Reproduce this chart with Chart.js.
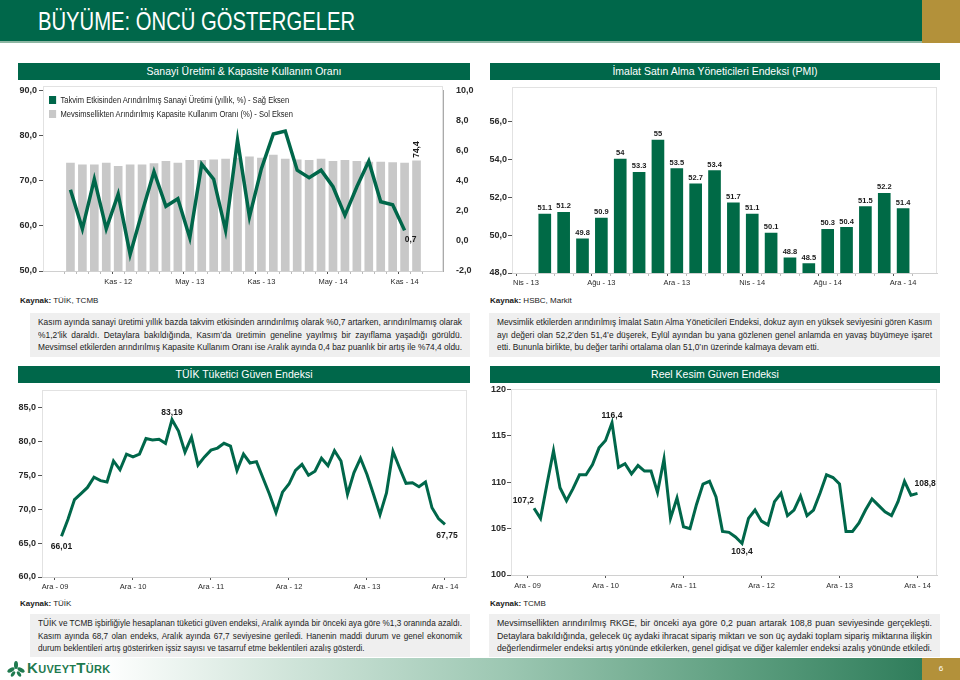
<!DOCTYPE html>
<html lang="tr">
<head>
<meta charset="utf-8">
<script src="https://cdn.jsdelivr.net/npm/chart.js@4.4.1/dist/chart.umd.min.js"></script>
<style>
  body { margin: 0; width: 960px; height: 680px; position: relative; overflow: hidden; background: #fff;
         font-family: "Liberation Sans", Arial, sans-serif; color: #1a1a1a; }
  .abs { position: absolute; }
  #hdr { left: 0; top: 0; width: 922px; height: 41px; background: #00674a; }
  #hdrLine { left: 0; top: 41px; width: 922px; height: 2px; background: #8db6a3; }
  #hdrTitle { left: 38px; top: 6px; color: #fff; font-size: 26px; white-space: nowrap; transform-origin: left center; }
  .gold { background: #b3913a; }
  .tbar { height: 17px; line-height: 17px; background: #00674a; color: #fff; text-align: center; font-size: 10.5px; }
  .frame { border: 1px solid #e2e2e2; box-sizing: border-box; }
  canvas { position: absolute; z-index: 2; }
  .src { font-size: 8px; }
  .box { background: #efefef; box-sizing: border-box; padding: 3px 8px 0 8px; font-size: 9px; color: #222; }
  .box div, .leg div { width: max-content; white-space: nowrap; transform-origin: left center; }
  .box div { height: 12.5px; line-height: 12.5px; }
  .leg { font-size: 8.5px; color: #222; z-index: 3; }
  .leg div { height: 14px; line-height: 14px; }
  .leg span.sw { display: inline-block; width: 8px; height: 8px; vertical-align: -1px; margin-right: 5px; }
  #foot { left: 0; top: 658px; width: 922px; height: 22px;
          background: linear-gradient(to right, #ffffff 0%, #ffffff 11%, #d3e6dc 30%, #9cc7b2 55%, #5e9f80 80%, #2f7d5b 100%); }
</style>
</head>
<body>
<div id="hdr" class="abs"></div>
<div id="hdrLine" class="abs"></div>
<div id="hdrTitle" class="abs">BÜYÜME: ÖNCÜ GÖSTERGELER</div>
<div class="abs gold" style="left:922px;top:0;width:38px;height:43px"></div>

<div class="abs tbar" style="left:18px;top:63px;width:452px">Sanayi Üretimi &amp; Kapasite Kullanım Oranı</div>
<div class="abs tbar" style="left:490px;top:63px;width:450px">İmalat Satın Alma Yöneticileri Endeksi (PMI)</div>
<div class="abs tbar" style="left:18px;top:366px;width:452px">TÜİK Tüketici Güven Endeksi</div>
<div class="abs tbar" style="left:490px;top:366px;width:450px">Reel Kesim Güven Endeksi</div>

<div class="abs frame" style="left:43px;top:86px;width:400px;height:186px"></div>
<div class="abs frame" style="left:512px;top:87px;width:425px;height:187px"></div>
<div class="abs frame" style="left:42px;top:390px;width:425px;height:188px"></div>
<div class="abs frame" style="left:511px;top:389px;width:426px;height:187px"></div>

<canvas id="c1" width="480" height="215" style="left:0;top:80px"></canvas>
<canvas id="c2" width="480" height="215" style="left:480px;top:80px"></canvas>
<canvas id="c3" width="480" height="217" style="left:0;top:383px"></canvas>
<canvas id="c4" width="480" height="217" style="left:480px;top:383px"></canvas>

<div class="abs leg" id="leg" style="left:49px;top:93px" data-w="244">
  <div><span class="sw" style="background:#00674a"></span>Takvim Etkisinden Arındırılmış Sanayi Üretimi (yıllık, %) - Sağ Eksen</div>
  <div><span class="sw" style="background:#c8c8c8"></span>Mevsimsellikten Arındırılmış Kapasite Kullanım Oranı (%) - Sol Eksen</div>
</div>

<div class="abs src" style="left:20px;top:296px"><b>Kaynak:</b> TÜİK, TCMB</div>
<div class="abs src" style="left:490px;top:296px"><b>Kaynak:</b> HSBC, Markit</div>
<div class="abs src" style="left:20px;top:599px"><b>Kaynak:</b> TÜİK</div>
<div class="abs src" style="left:490px;top:599px"><b>Kaynak:</b> TCMB</div>

<div class="abs box" style="left:30px;top:313px;width:440px;height:44px">
  <div>Kasım ayında sanayi üretimi yıllık bazda takvim etkisinden arındırılmış olarak %0,7 artarken, arındırılmamış olarak</div>
  <div>%1,2’lik daraldı. Detaylara bakıldığında, Kasım’da üretimin geneline yayılmış bir zayıflama yaşadığı görüldü.</div>
  <div>Mevsimsel etkilerden arındırılmış Kapasite Kullanım Oranı ise Aralık ayında 0,4 baz puanlık bir artış ile %74,4 oldu.</div>
</div>
<div class="abs box" style="left:489px;top:313px;width:451px;height:44px">
  <div>Mevsimlik etkilerden arındırılmış İmalat Satın Alma Yöneticileri Endeksi, dokuz ayın en yüksek seviyesini gören Kasım</div>
  <div>ayı değeri olan 52,2’den 51,4’e düşerek, Eylül ayından bu yana gözlenen genel anlamda en yavaş büyümeye işaret</div>
  <div>etti. Bununla birlikte, bu değer tarihi ortalama olan 51,0’ın üzerinde kalmaya devam etti.</div>
</div>
<div class="abs box" style="left:30px;top:614px;width:440px;height:43px">
  <div>TÜİK ve TCMB işbirliğiyle hesaplanan tüketici güven endeksi, Aralık ayında bir önceki aya göre %1,3 oranında azaldı.</div>
  <div>Kasım ayında 68,7 olan endeks, Aralık ayında 67,7 seviyesine geriledi. Hanenin maddi durum ve genel ekonomik</div>
  <div>durum beklentileri artış gösterirken işsiz sayısı ve tasarruf etme beklentileri azalış gösterdi.</div>
</div>
<div class="abs box" style="left:489px;top:614px;width:451px;height:43px">
  <div>Mevsimsellikten arındırılmış RKGE, bir önceki aya göre 0,2 puan artarak 108,8 puan seviyesinde gerçekleşti.</div>
  <div>Detaylara bakıldığında, gelecek üç aydaki ihracat sipariş miktarı ve son üç aydaki toplam sipariş miktarına ilişkin</div>
  <div>değerlendirmeler endeksi artış yönünde etkilerken, genel gidişat ve diğer kalemler endeksi azalış yönünde etkiledi.</div>
</div>

<div id="foot" class="abs"></div>
<div class="abs gold" style="left:922px;top:658px;width:38px;height:22px;color:#fff;font-size:8px;line-height:22px;text-align:center">6</div>
<svg class="abs" style="left:7px;top:661px" width="18" height="16" viewBox="0 0 18 16">
  <g fill="#1f7a4f">
    <ellipse cx="9" cy="4" rx="2" ry="4"/>
    <ellipse cx="4" cy="9" rx="4" ry="2" transform="rotate(-30 4 9)"/>
    <ellipse cx="14" cy="9" rx="4" ry="2" transform="rotate(30 14 9)"/>
    <ellipse cx="6" cy="13" rx="1.6" ry="3" transform="rotate(35 6 13)"/>
    <ellipse cx="12" cy="13" rx="1.6" ry="3" transform="rotate(-35 12 13)"/>
  </g>
</svg>
<div class="abs" style="left:27px;top:659px;color:#1f7a4f;font:bold 15px 'Liberation Sans', sans-serif;font-variant:small-caps;letter-spacing:0.3px">KuveytTürk</div>

<script>
// sanayi üretimi & kapasite kullanım oranı (Tem 12 - Ara 14)
const ipMonths = ['Tem - 12','Ağu - 12','Eyl - 12','Eki - 12','Kas - 12','Ara - 12',
  'Oca - 13','Şub - 13','Mar - 13','Nis - 13','May - 13','Haz - 13','Tem - 13','Ağu - 13','Eyl - 13','Eki - 13','Kas - 13','Ara - 13',
  'Oca - 14','Şub - 14','Mar - 14','Nis - 14','May - 14','Haz - 14','Tem - 14','Ağu - 14','Eyl - 14','Eki - 14','Kas - 14','Ara - 14'];
const ipShown = ['Kas - 12','May - 13','Kas - 13','May - 14','Kas - 14'];
const capacityUse = [73.9, 73.5, 73.5, 73.9, 73.2, 73.5, 73.5, 73.8, 74.3, 73.9, 74.5, 74.5, 74.6, 74.8, 75.0,
  75.3, 75.0, 75.7, 74.8, 74.6, 74.5, 74.8, 74.3, 74.5, 74.3, 74.1, 74.1, 74.0, 73.9, 74.4];
const industrialProd = [3.4, 0.8, 4.1, 0.8, 3.1, -0.9, 1.9, 4.6, 2.3, 2.8, 0.2, 5.1, 4.1, 0.7, 6.7,
  1.6, 4.8, 7.1, 7.3, 4.7, 4.2, 4.7, 3.6, 1.7, 3.6, 5.3, 2.6, 2.4, 0.7, null];
const capTicks = [50, 60, 70, 80, 90];
const ipTicks = [-2, 0, 2, 4, 6, 8, 10];

// PMI (Nis 13 - Ara 14)
const pmiMonths = ['Nis - 13','May - 13','Haz - 13','Tem - 13','Ağu - 13','Eyl - 13','Eki - 13','Kas - 13','Ara - 13',
  'Oca - 14','Şub - 14','Mar - 14','Nis - 14','May - 14','Haz - 14','Tem - 14','Ağu - 14','Eyl - 14','Eki - 14','Kas - 14','Ara - 14'];
const pmiShown = ['Nis - 13','Ağu - 13','Ara - 13','Nis - 14','Ağu - 14','Ara - 14'];
const pmi = [null, 51.1, 51.2, 49.8, 50.9, 54, 53.3, 55, 53.5, 52.7, 53.4, 51.7, 51.1, 50.1, 48.8, 48.5, 50.3, 50.4, 51.5, 52.2, 51.4];
const pmiTicks = [48, 50, 52, 54, 56];

// tüketici güven & reel kesim güven (Oca 10 - Ara 14, ay sırası 1..60; Ara 09 = 0)
const yearLabels = ['Ara - 09','Ara - 10','Ara - 11','Ara - 12','Ara - 13','Ara - 14'];
const consumerConf = [66.01, 68.5, 71.4, 72.3, 73.2, 74.7, 74.2, 74.0, 77.1, 75.8, 78.1, 77.7,
  78.1, 80.4, 80.2, 80.3, 79.7, 83.19, 81.5, 78.4, 80.6, 76.5, 77.7, 78.7,
  79.0, 79.7, 79.3, 75.7, 78.1, 76.8, 77.0, 74.6, 72.2, 69.5, 72.5, 73.7,
  75.7, 76.6, 75.0, 75.6, 77.5, 76.4, 78.6, 77.1, 72.2, 75.4, 77.5, 75.1,
  72.2, 69.2, 72.4, 78.5, 76.1, 73.8, 73.9, 73.3, 74.0, 70.2, 68.6, 67.75];
const ccTicks = [60, 65, 70, 75, 80, 85];
const realSector = [107.2, 106.1, 109.8, 113.4, 109.4, 108.0, 109.3, 110.8, 110.8, 111.9, 113.7, 114.5,
  116.4, 111.6, 112.0, 110.9, 111.8, 111.2, 111.2, 108.9, 112.5, 106.1, 108.3, 105.2,
  105.0, 107.6, 109.8, 110.1, 108.4, 104.7, 104.6, 104.1, 103.4, 106.1, 107.0, 105.8,
  105.4, 107.9, 108.8, 106.4, 107.0, 108.5, 106.4, 107.0, 108.8, 110.8, 110.5, 109.8,
  104.7, 104.7, 105.6, 107.0, 108.2, 107.5, 106.8, 106.4, 107.9, 110.1, 108.6, 108.8];
const rkTicks = [100, 105, 110, 115, 120];

const GREEN = '#00674a';
const BAR_GREEN = '#006a46';
const GREY = '#c8c8c8';
const FONT = "'Liberation Sans', Arial, sans-serif";
const fmt = (v, d) => v.toFixed(d).replace('.', ',');

// metin satırlarını dar yazı gibi sığdır, paragrafları iki yana yasla
function fitLines(container, target, justifyAllButLast) {
  const lines = Array.from(container.children);
  const widths = lines.map(l => l.getBoundingClientRect().width);
  const ref = justifyAllButLast ? widths.slice(0, -1) : widths;
  const s = Math.min(1, ...ref.map(w => target / w));
  lines.forEach((l, i) => {
    const si = Math.min(s, target / widths[i]);
    l.style.transform = `scaleX(${si})`;
    const justify = justifyAllButLast && i < lines.length - 1;
    const spaces = (l.textContent.trim().match(/ /g) || []).length;
    if (justify && spaces) l.style.wordSpacing = ((target / si - widths[i]) / spaces) + 'px';
  });
}
document.querySelectorAll('.box').forEach(b => fitLines(b, b.clientWidth - 16, true));
fitLines(document.getElementById('leg'), 244, false);
(() => {
  const t = document.getElementById('hdrTitle');
  t.style.transform = `scaleX(${317 / t.getBoundingClientRect().width})`;
})();

// küçük etiket eklentisi: seçilen noktaların/barların değerini yazar
const valueLabels = {
  id: 'valueLabels',
  afterDatasetsDraw(chart, args, opts) {
    const ctx = chart.ctx;
    (opts.items || []).forEach(it => {
      const el = chart.getDatasetMeta(it.ds).data[it.i];
      const raw = chart.data.datasets[it.ds].data[it.i];
      const v = raw && typeof raw === 'object' ? raw.y : raw;
      if (!el || v == null) return;
      ctx.save();
      ctx.font = it.font || `bold 8.5px ${FONT}`;
      ctx.fillStyle = '#1a1a1a';
      ctx.textBaseline = 'middle';
      ctx.textAlign = it.align || 'center';
      ctx.translate(el.x + (it.dx || 0), el.y + (it.dy || 0));
      if (it.rotate) ctx.rotate(-Math.PI / 2);
      ctx.fillText(it.fmt ? it.fmt(v) : String(v), 0, 0);
      ctx.restore();
    });
  }
};

const setTicks = list => scale => { scale.ticks = list.map(v => ({ value: v })); };
const yTickFont = { family: FONT, size: 9, weight: 'bold' };
const xTickFont = { family: FONT, size: 7.5 };

function baseOptions(padding, labelItems) {
  return {
    responsive: false,
    animation: false,
    devicePixelRatio: 1,
    layout: { padding },
    plugins: { legend: { display: false }, tooltip: { enabled: false }, valueLabels: { items: labelItems } }
  };
}

function leftAxis(min, max, ticks, width, digits, padding) {
  return {
    position: 'left', min, max,
    afterBuildTicks: setTicks(ticks),
    afterFit: s => { s.width = width; },
    ticks: { font: yTickFont, color: '#2a2a2a', padding: padding, callback: v => fmt(v, digits) },
    grid: { drawOnChartArea: false, tickLength: 4, tickColor: '#555' },
    border: { display: false }
  };
}

// 1) Sanayi üretimi & KKO
new Chart(document.getElementById('c1'), {
  type: 'bar',
  plugins: [valueLabels],
  data: {
    datasets: [
      {
        type: 'line', yAxisID: 'y1', order: 0,
        data: industrialProd.map((v, i) => ({ x: i, y: v })),
        borderColor: GREEN, borderWidth: 3.5, pointRadius: 0, tension: 0
      },
      {
        type: 'bar', yAxisID: 'y', order: 1,
        data: capacityUse.map((v, i) => ({ x: i, y: v })),
        backgroundColor: GREY, barThickness: 8
      }
    ]
  },
  options: Object.assign(baseOptions({ top: 6, right: 0, bottom: 0, left: 0 }, [
    { ds: 0, i: industrialProd.length - 2, dx: 6, dy: 9, fmt: v => fmt(v, 1) },
    { ds: 1, i: capacityUse.length - 1, dy: -3, align: 'left', rotate: true, fmt: v => fmt(v, 1) }
  ]), {
    scales: {
      x: {
        type: 'linear', min: -1.742, max: 30.66,
        afterBuildTicks: setTicks(ipMonths.map((m, i) => i)),
        afterFit: s => { s.height = 24; },
        ticks: { autoSkip: false, maxRotation: 0, minRotation: 0, padding: 3, font: xTickFont, color: '#2a2a2a',
                 callback: v => ipShown.includes(ipMonths[v]) ? ipMonths[v] : '' },
        grid: { drawOnChartArea: false, tickLength: 3,
                tickColor: c => (c.tick && ipShown.includes(ipMonths[c.tick.value])) ? '#555' : '#bbb' },
        border: { color: '#d0d0d0' }
      },
      y: leftAxis(50, 90, capTicks, 43, 1, 2),
      y1: {
        position: 'right', min: -2, max: 10,
        afterBuildTicks: setTicks(ipTicks),
        afterFit: s => { s.width = 37; },
        ticks: { font: yTickFont, color: '#2a2a2a', padding: 5, callback: v => fmt(v, 1) },
        grid: { display: false },
        border: { display: true, color: '#aaaaaa' }
      }
    }
  })
});

// 2) PMI
new Chart(document.getElementById('c2'), {
  type: 'bar',
  plugins: [valueLabels],
  data: {
    datasets: [{
      data: pmi.map((v, i) => ({ x: i, y: v })),
      backgroundColor: BAR_GREEN, barThickness: 12
    }]
  },
  options: Object.assign(baseOptions({ top: 7, right: 23, bottom: 0, left: 0 },
    pmi.map((v, i) => ({ ds: 0, i, dy: -6, font: `bold 7.5px ${FONT}` }))), {
    scales: {
      x: {
        type: 'linear', min: -0.202, max: 21.26,
        afterBuildTicks: setTicks(pmiMonths.map((m, i) => i)),
        afterFit: s => { s.height = 22; },
        ticks: { autoSkip: false, maxRotation: 0, minRotation: 0, padding: 2, font: xTickFont, color: '#2a2a2a',
                 callback: v => pmiShown.includes(pmiMonths[v]) ? pmiMonths[v] : '' },
        grid: { drawOnChartArea: false, tickLength: 3,
                tickColor: c => (c.tick && pmiShown.includes(pmiMonths[c.tick.value])) ? '#555' : '#bbb' },
        border: { color: '#d0d0d0' }
      },
      y: leftAxis(48, 57.8, pmiTicks, 32, 1, 1)
    }
  })
});

// 3) ve 4) çizgi grafikleri
function lineChart(id, values, opts) {
  return new Chart(document.getElementById(id), {
    type: 'line',
    plugins: [valueLabels],
    data: {
      datasets: [{
        data: values.map((v, i) => ({ x: i + 1, y: v })),
        borderColor: GREEN, borderWidth: 3, pointRadius: 0, tension: 0
      }]
    },
    options: Object.assign(baseOptions(opts.padding, opts.labels), {
      scales: {
        x: {
          type: 'linear', min: opts.xmin, max: opts.xmax,
          afterBuildTicks: setTicks(yearLabels.map((l, i) => i * 12)),
          afterFit: s => { s.height = opts.xh; },
          ticks: { autoSkip: false, maxRotation: 0, minRotation: 0, padding: opts.xpad, font: xTickFont, color: '#2a2a2a',
                   callback: v => yearLabels[v / 12] },
          grid: { drawOnChartArea: false, tickLength: 3, tickColor: '#555' },
          border: { color: '#d0d0d0' }
        },
        y: leftAxis(opts.ymin, opts.ymax, opts.yticks, opts.yw, opts.ydigits, opts.ypad)
      }
    })
  });
}

const ccMax = consumerConf.indexOf(Math.max(...consumerConf));
lineChart('c3', consumerConf, {
  padding: { top: 7, right: 15, bottom: 0, left: 0 },
  xmin: -2, xmax: 63.08, xh: 23, xpad: 2,
  ymin: 60, ymax: 87.5, yticks: ccTicks, yw: 42, ydigits: 1, ypad: 2,
  labels: [
    { ds: 0, i: 0, dy: 10, fmt: v => fmt(v, 2) },
    { ds: 0, i: ccMax, dy: -7, fmt: v => fmt(v, 2) },
    { ds: 0, i: consumerConf.length - 1, dx: 2, dy: 11, fmt: v => fmt(v, 2) }
  ]
});

const rkMax = realSector.indexOf(Math.max(...realSector));
const rkMin = realSector.indexOf(Math.min(...realSector));
lineChart('c4', realSector, {
  padding: { top: 6, right: 23, bottom: 0, left: 0 },
  xmin: -2.54, xmax: 63.0, xh: 25, xpad: 3,
  ymin: 100, ymax: 120, yticks: rkTicks, yw: 31, ydigits: 0, ypad: 1,
  labels: [
    { ds: 0, i: 0, dx: 0, dy: -8, align: 'right', fmt: v => fmt(v, 1) },
    { ds: 0, i: rkMax, dy: -7, fmt: v => fmt(v, 1) },
    { ds: 0, i: rkMin, dy: 8, fmt: v => fmt(v, 1) },
    { ds: 0, i: realSector.length - 1, dx: -3, dy: -10, align: 'left', fmt: v => fmt(v, 1) }
  ]
});
</script>
</body>
</html>
